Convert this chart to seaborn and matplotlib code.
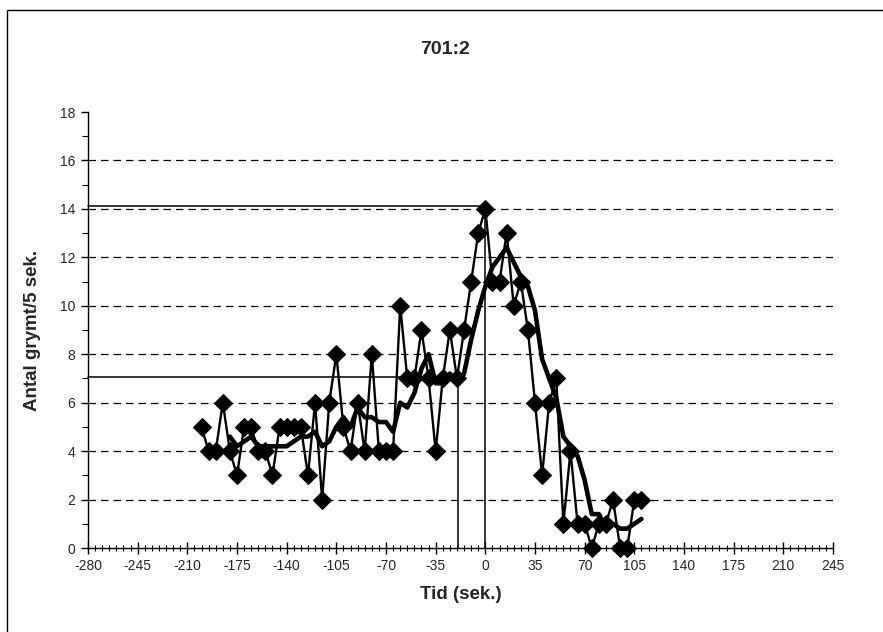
import numpy as np
import pandas as pd
import matplotlib
matplotlib.use("Agg")
import matplotlib.pyplot as plt
from matplotlib.patches import Rectangle
from matplotlib.ticker import MultipleLocator
import seaborn as sns

# ---- data ----
times = [-200, -195, -190, -185, -180, -175, -170, -165, -160, -155,
         -150, -145, -140, -135, -130, -125, -120, -115, -110, -105,
         -100, -95, -90, -85, -80, -75, -70, -65, -60, -55,
         -50, -45, -40, -35, -30, -25, -20, -15, -10, -5,
         0, 5, 10, 15, 20, 25, 30, 35, 40, 45,
         50, 55, 60, 65, 70, 75, 80, 85, 90, 95,
         100, 105, 110]
counts = [5, 4, 4, 6, 4, 3, 5, 5, 4, 4,
          3, 5, 5, 5, 5, 3, 6, 2, 6, 8,
          5, 4, 6, 4, 8, 4, 4, 4, 10, 7,
          7, 9, 7, 4, 7, 9, 7, 9, 11, 13,
          14, 11, 11, 13, 10, 11, 9, 6, 3, 6,
          7, 1, 4, 1, 1, 0, 1, 1, 2, 0,
          0, 2, 2]
ma_period = 5
ref_levels = [14.1, 7.05]      # max level and half of it
ref_times = [0, -19.5]         # times where the levels are reached
grid_levels = [2, 4, 6, 8, 10, 12, 14, 16]

title = "701:2"
xlabel = "Tid (sek.)"
ylabel = "Antal grymt/5 sek."

df = pd.DataFrame({"t": times, "n": counts})
df["ma"] = df["n"].rolling(ma_period).mean()

sns.set_style("white")
plt.rcParams["font.family"] = ["Liberation Sans", "DejaVu Sans"]
plt.rcParams["axes.unicode_minus"] = False

W, H = 883, 632
fig = plt.figure(figsize=(W / 100, H / 100), dpi=100)
ax = fig.add_axes([88 / W, 1 - 548 / H, (833 - 88) / W, (548 - 112) / H])

xmin, xmax = -280, 245
ax.set_xlim(xmin, xmax)
ax.set_ylim(0, 18)

for g in grid_levels:
    ax.axhline(g, color="black", lw=0.9, ls=(0, (6, 4)), zorder=1)

# reference lines
for lvl, tt in zip(ref_levels, ref_times):
    ax.plot([xmin, tt], [lvl, lvl], color="black", lw=1.1, zorder=2, clip_on=False)
    ax.plot([tt, tt], [0, lvl], color="black", lw=1.1, zorder=2, clip_on=False)

sns.lineplot(data=df, x="t", y="n", ax=ax, color="black", lw=1.7,
             marker="D", markersize=9, markeredgecolor="black",
             markerfacecolor="black", zorder=4, clip_on=False)
sns.lineplot(data=df.dropna(), x="t", y="ma", ax=ax, color="black",
             lw=3.3, zorder=3, clip_on=False)

for s in ["top", "right"]:
    ax.spines[s].set_visible(False)
for s in ["left", "bottom"]:
    ax.spines[s].set_color("black")
    ax.spines[s].set_linewidth(1.0)

ax.xaxis.set_major_locator(MultipleLocator(35))
ax.xaxis.set_minor_locator(MultipleLocator(5))
ax.yaxis.set_major_locator(MultipleLocator(2))
ax.yaxis.set_minor_locator(MultipleLocator(1))
ax.tick_params(axis="x", which="major", direction="inout", length=8,
               width=1, color="black", labelsize=10, pad=4)
ax.tick_params(axis="x", which="minor", direction="inout", length=5,
               width=0.8, color="black")
ax.tick_params(axis="y", which="major", direction="out", length=5,
               width=1, color="black", labelsize=10, pad=4)
ax.tick_params(axis="y", which="minor", direction="out", length=4,
               width=0.8, color="black")
ax.tick_params(bottom=True, left=True, which="both")

ax.set_xlabel(xlabel, fontsize=13.5, fontweight="bold", labelpad=9)
ax.set_ylabel(ylabel, fontsize=13.5, fontweight="bold", labelpad=14)

fig.text(445 / W, 1 - 50 / H, title, ha="center", va="center",
         fontsize=14, fontweight="bold")

fig.patches.append(Rectangle((7 / W, -0.1), 1.2, 1 - 10 / H + 0.1,
                             transform=fig.transFigure, fill=False,
                             edgecolor="black", lw=1.0))

fig.savefig("out.png", dpi=100, facecolor="white")
